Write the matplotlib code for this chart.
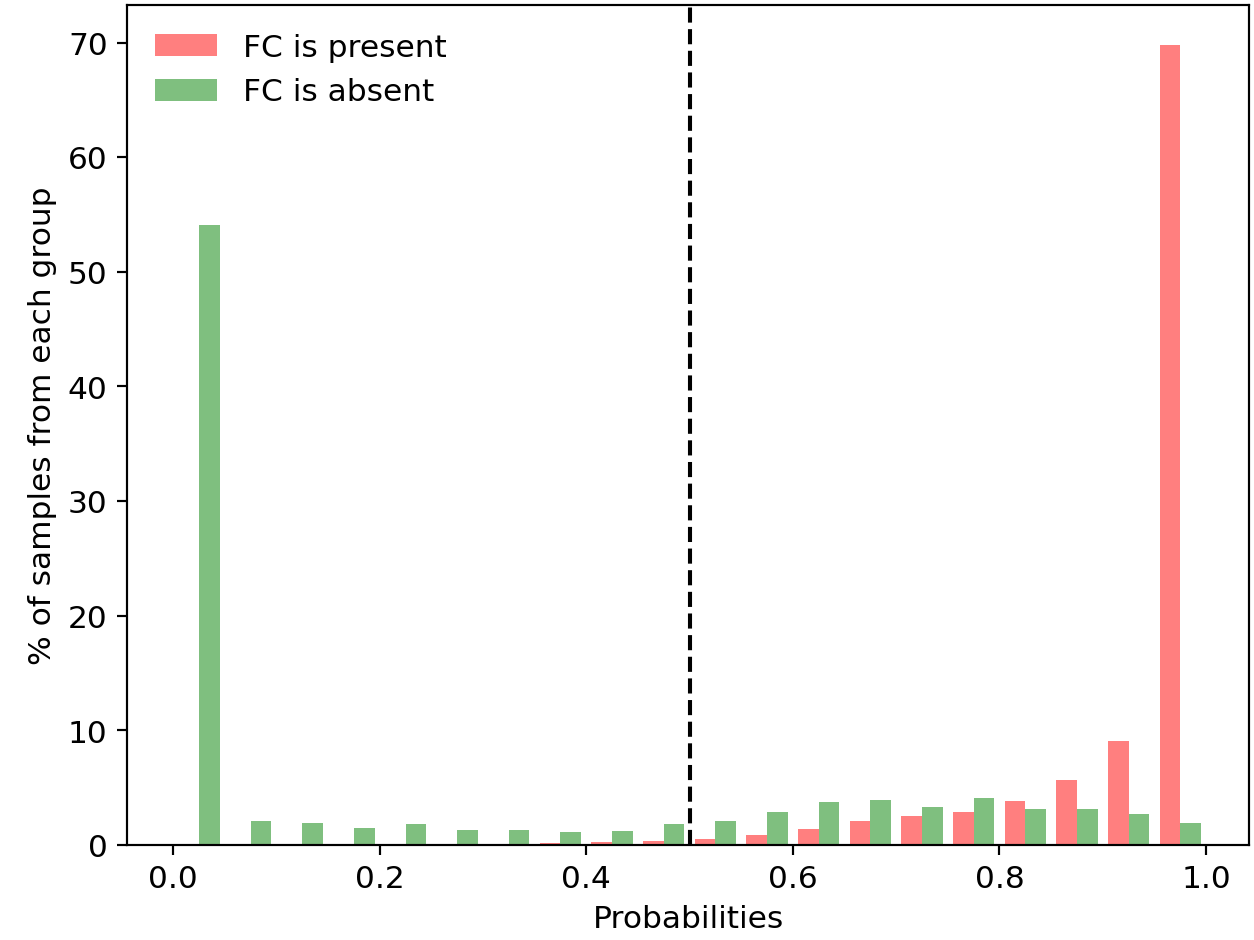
import matplotlib
matplotlib.use("Agg")
import matplotlib.pyplot as plt
import numpy as np

# 20 probability bins between 0 and 1
bin_edges = np.linspace(0.0, 1.0, 21)

# % of samples in each bin
fc_present = [0.0, 0.0, 0.0, 0.0, 0.03, 0.05, 0.05, 0.15, 0.26, 0.38,
              0.5, 0.87, 1.40, 2.07, 2.53, 2.86, 3.84, 5.71, 9.08, 69.8]
fc_absent = [54.1, 2.1, 1.92, 1.48, 1.83, 1.31, 1.31, 1.13, 1.19, 1.85,
             2.07, 2.86, 3.73, 3.96, 3.29, 4.08, 3.14, 3.14, 2.73, 1.92]

labels = ["FC is present", "FC is absent"]


def drawcanvas():
    plt.rcParams['font.size'] = 11.5
    fig, ax = plt.subplots(figsize=(6.4, 4.8), dpi=196)
    centers = (bin_edges[:-1] + bin_edges[1:]) / 2
    ax.hist([centers, centers], bins=bin_edges,
            weights=[fc_present, fc_absent],
            color=["red", "green"], alpha=0.5, label=labels)
    ax.axvline(0.5, color="k", linestyle="--")
    ax.set_xlim(-0.045, 1.042)
    ax.set_xlabel("Probabilities")
    ax.set_ylabel("% of samples from each group")
    ax.legend(loc="upper left", frameon=False)
    fig.subplots_adjust(left=0.101, right=0.996, bottom=0.101, top=0.994)
    fig.savefig("out.png", dpi=196)


if __name__ == "__main__":
    drawcanvas()
